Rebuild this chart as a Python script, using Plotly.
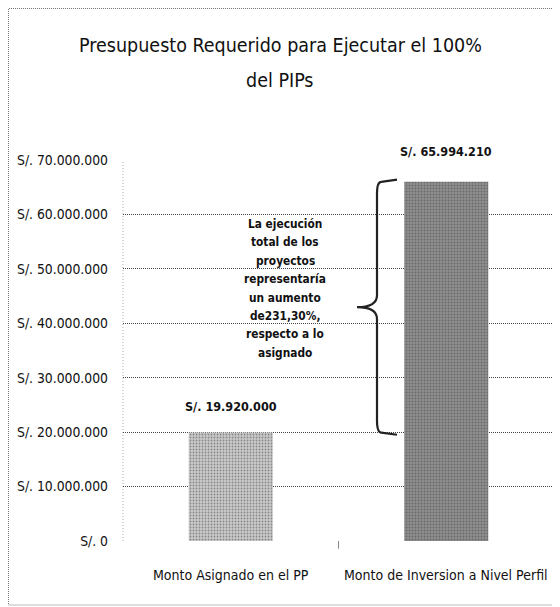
import plotly.graph_objects as go

categories = ["Monto Asignado en el PP", "Monto de Inversion a Nivel Perfil"]
values = [19920000, 65994210]
value_labels = ["S/. 19.920.000", "S/. 65.994.210"]
tick_vals = [0, 10000000, 20000000, 30000000, 40000000, 50000000, 60000000, 70000000]
tick_text = ["S/. 0", "S/. 10.000.000", "S/. 20.000.000", "S/. 30.000.000",
             "S/. 40.000.000", "S/. 50.000.000", "S/. 60.000.000", "S/. 70.000.000"]
title_lines = ["Presupuesto Requerido para Ejecutar el 100%", "del PIPs"]
note_lines = ["La ejecución", "total de los", "proyectos", "representaría", "un aumento",
              "de231,30%,", "respecto a lo", "asignado"]

COND = "DejaVu Sans Condensed, DejaVu Sans, sans-serif"
OFF = 8  # page body margin offset
W, H = 560 - OFF, 607 - OFF
L, T = 123 - OFF, 160 - OFF
R = W - (554 - OFF)
B = H - (541 - OFF)
PW, PH = W - L - R, H - T - B


def px_x(px):  # reference pixel -> paper
    return (px - OFF - L) / PW


def px_y(py):
    return (H - B - (py - OFF)) / PH


def cat_x(px):  # reference pixel -> category axis coordinate
    return (px - OFF - L) / (PW / 2) - 0.5


fig = go.Figure()
fig.add_trace(go.Bar(
    x=[0, 1], y=values, width=0.39,
    marker=dict(color=["#cacaca", "#8e8e8e"], line=dict(width=0),
                pattern=dict(shape=".", size=3, solidity=0.3,
                             fgcolor=["#9c9c9c", "#5c5c5c"])),
    hoverinfo="skip", showlegend=False,
))

# title lines
for i, t in enumerate(title_lines):
    fig.add_annotation(x=px_x(280), xref="paper", xanchor="center", y=px_y(45 + 35 * i), yref="paper",
                       yanchor="middle", text=t, showarrow=False,
                       font=dict(family=COND, size=19.5, color="#111"))

# value labels
for i, (v, t) in enumerate(zip(values, value_labels)):
    fig.add_annotation(x=i, y=v, text="<b>" + t + "</b>", showarrow=False,
                       yshift=(17 if i == 0 else 21),
                       font=dict(family=COND, size=12.5, color="#111"), yanchor="bottom")

# x category labels
for i, c in enumerate(categories):
    fig.add_annotation(x=i, xref="x", y=px_y(575), yref="paper", text=c, showarrow=False,
                       yanchor="middle", font=dict(family=COND, size=14, color="#111"))

# brace between values
lo, hi = values
mid = (lo + hi) / 2
xb = cat_x(377)
xh = cat_x(397)
xp = cat_x(357)
r = 2200000
path = (f"M {xh},{hi + 400000} L {xb + 0.02},{hi} Q {xb},{hi} {xb},{hi - r} "
        f"L {xb},{mid + r} Q {xb},{mid} {xp},{mid} "
        f"Q {xb},{mid} {xb},{mid - r} L {xb},{lo + r} Q {xb},{lo} {xb + 0.02},{lo} "
        f"L {xh},{lo - 400000}")
fig.add_shape(type="path", path=path, xref="x", yref="y",
              line=dict(color="#222", width=2.2))

# note text lines
for i, t in enumerate(note_lines):
    fig.add_annotation(x=px_x(285), xref="paper", y=px_y(224 + 18.4 * i), yref="paper",
                       text="<b>" + t + "</b>", showarrow=False, xanchor="center", yanchor="middle",
                       font=dict(family=COND, size=11.8, color="#111"))

# outer frame
fig.add_shape(type="rect", xref="paper", yref="paper",
              x0=px_x(8.5), x1=px_x(553), y0=px_y(605), y1=px_y(8.5),
              line=dict(color="#777", width=1, dash="1px,1px"), layer="below")

# y axis line (dotted light)
fig.add_shape(type="line", xref="paper", yref="paper", x0=0, x1=0, y0=0, y1=1,
              line=dict(color="#aaa", width=1, dash="1px,2px"), layer="below")

fig.update_layout(
    width=W, height=H,
    margin=dict(l=L, r=R, t=T, b=B, autoexpand=False),
    paper_bgcolor="white", plot_bgcolor="white",
    xaxis=dict(range=[-0.5, 1.5], tickvals=[0, 1], ticktext=["", ""],
               showgrid=False, zeroline=False, showline=False, automargin=False, ticklen=0),
    yaxis=dict(range=[0, 70000000], tickvals=tick_vals, ticktext=tick_text,
               showgrid=True, gridcolor="#444", griddash="1px,1px", gridwidth=1,
               zeroline=False, showline=False, automargin=False,
               tickfont=dict(family=COND, size=13.8, color="#111"), ticks="", ticklabelstandoff=14),
)
for xv in (0.5, 1.5):
    fig.add_shape(type="line", xref="x", yref="paper", x0=xv, x1=xv, y0=0, y1=-0.02,
                  line=dict(color="#888", width=1))

fig.write_html("out.html")
